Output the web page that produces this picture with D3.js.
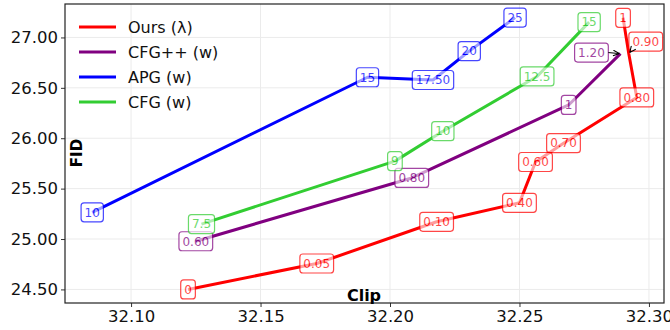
<!DOCTYPE html>
<html><head><meta charset="utf-8">
<script src="https://cdn.jsdelivr.net/npm/d3@7"></script>
<style>body{margin:0;background:#fff} svg{display:block} text{font-family:"DejaVu Sans",sans-serif}</style>
</head><body><svg id="c" width="670" height="330"></svg>
<script>
// ---- data ----
const seriesNames = ["Ours (λ)", "CFG++ (w)", "APG (w)", "CFG (w)"];
const seriesColors = ["#ff0000", "#800080", "#0000ff", "#32cd32"];

const oursClip = [32.122, 32.1717, 32.218, 32.250, 32.2562, 32.267, 32.2953, 32.2922, 32.290];
const oursFid = [24.50, 24.757, 25.171, 25.359, 25.764, 25.951, 26.405, 26.84, 27.195];
const oursLabels = ["0", "0.05", "0.10", "0.40", "0.60", "0.70", "0.80", "0.90", "1"];

const cfgppClip = [32.125, 32.2084, 32.269, 32.289];
const cfgppFid = [24.978, 25.606, 26.33, 26.84];
const cfgppLabels = ["0.60", "0.80", "1", "1.20"];

const apgClip = [32.085, 32.1913, 32.2166, 32.2306, 32.2483];
const apgFid = [25.265, 26.605, 26.578, 26.864, 27.197];
const apgLabels = ["10", "15", "17.50", "20", "25"];

const cfgClip = [32.1272, 32.2019, 32.2204, 32.2568, 32.2769];
const cfgFid = [25.148, 25.773, 26.07, 26.613, 27.152];
const cfgLabels = ["7.5", "9", "10", "12.5", "15"];

const xTicks = [32.10, 32.15, 32.20, 32.25, 32.30];
const yTicks = [24.50, 25.00, 25.50, 26.00, 26.50, 27.00];

// labels drawn offset with an arrow (series index, label, pixel offset)
const offsetLabels = [
  { s: 0, label: "0.90", dx: 17, dy: -12 },
  { s: 1, label: "1.20", dx: -29, dy: -1 }
];

const series = [
  { clip: oursClip, fid: oursFid, labels: oursLabels },
  { clip: cfgppClip, fid: cfgppFid, labels: cfgppLabels },
  { clip: apgClip, fid: apgFid, labels: apgLabels },
  { clip: cfgClip, fid: cfgFid, labels: cfgLabels }
].map((d, i) => ({ ...d, name: seriesNames[i], color: seriesColors[i] }));

// ---- layout ----
const svg = d3.select("#c");
const L = 65, R = 664, T = 4, B = 303;
const allX = series.flatMap(s => s.clip), allY = series.flatMap(s => s.fid);
const [x0, x1] = d3.extent(allX), [y0, y1] = d3.extent(allY);
const mx = (x1 - x0) * 0.05, my = (y1 - y0) * 0.05;
const x = d3.scaleLinear().domain([x0 - mx, x1 + mx]).range([L, R]);
const y = d3.scaleLinear().domain([y0 - my, y1 + my]).range([B, T]);

// grid
const grid = svg.append("g");
grid.selectAll(".gx").data(xTicks).join("line")
  .attr("x1", d => x(d)).attr("x2", d => x(d)).attr("y1", T).attr("y2", B)
  .attr("stroke", "#ebebeb").attr("stroke-width", 1);
grid.selectAll(".gy").data(yTicks).join("line")
  .attr("y1", d => y(d)).attr("y2", d => y(d)).attr("x1", L).attr("x2", R)
  .attr("stroke", "#ebebeb").attr("stroke-width", 1);

// axes
const xAxis = svg.append("g").attr("transform", `translate(0,${B})`)
  .call(d3.axisBottom(x).tickValues(xTicks).tickFormat(d3.format(".2f")).tickSize(4).tickPadding(3));
const yAxis = svg.append("g").attr("transform", `translate(${L},0)`)
  .call(d3.axisLeft(y).tickValues(yTicks).tickFormat(d3.format(".2f")).tickSize(4).tickPadding(3));
[xAxis, yAxis].forEach(a => {
  a.select(".domain").remove();
  a.selectAll("text").attr("font-size", 16.5).attr("fill", "#111").attr("font-family", "DejaVu Sans");
  a.selectAll("line").attr("stroke", "#333");
});
svg.append("rect").attr("x", L).attr("y", T).attr("width", R - L).attr("height", B - T)
  .attr("fill", "none").attr("stroke", "#222").attr("stroke-width", 1.2);

// lines
const line = d3.line().x(d => x(d[0])).y(d => y(d[1]));
series.forEach(s => {
  svg.append("path").datum(d3.zip(s.clip, s.fid)).attr("d", line)
    .attr("fill", "none").attr("stroke", s.color).attr("stroke-width", 3)
    .attr("stroke-linejoin", "round");
});

// labels
svg.append("defs").append("marker").attr("id", "arr").attr("viewBox", "0 0 10 10")
  .attr("refX", 10).attr("refY", 5).attr("markerWidth", 7).attr("markerHeight", 7)
  .attr("orient", "auto-start-reverse")
  .append("path").attr("d", "M1,1 L10,5 L1,9").attr("fill", "none").attr("stroke", "#000").attr("stroke-width", 1.5);

series.forEach((s, si) => {
  s.labels.forEach((lab, i) => {
    const px = x(s.clip[i]), py = y(s.fid[i]);
    const off = offsetLabels.find(o => o.s === si && o.label === lab);
    const cx = off ? px + off.dx : px, cy = off ? py + off.dy : py;
    const g = svg.append("g").attr("opacity", 0.72);
    const t = g.append("text").attr("x", cx).attr("y", cy).attr("dy", "0.36em")
      .attr("text-anchor", "middle").attr("font-size", 12).attr("fill", s.color).text(lab);
    const bb = t.node().getBBox();
    const padX = 3.5, h = 19;
    g.insert("rect", "text").attr("x", bb.x - padX).attr("y", cy - h / 2)
      .attr("width", bb.width + 2 * padX).attr("height", h).attr("rx", 3)
      .attr("fill", "#fff").attr("fill-opacity", 0.85)
      .attr("stroke", s.color).attr("stroke-width", 1.2);
    if (off) {
      // arrow from box edge to point
      const bw = bb.width + 2 * padX;
      let sx, sy;
      if (off.dx < 0) { sx = cx + bw / 2; sy = cy; }
      else { sx = cx - bw / 2 + 2; sy = cy + h / 2; }
      svg.append("line").attr("x1", sx).attr("y1", sy).attr("x2", px + (off.dx < 0 ? -1 : 1)).attr("y2", py - (off.dx < 0 ? 0 : 1))
        .attr("stroke", "#000").attr("stroke-width", 1).attr("marker-end", "url(#arr)");
    }
  });
});

// axis titles
svg.append("text").attr("x", 364).attr("y", 301).attr("text-anchor", "middle")
  .attr("font-size", 16).attr("font-weight", "bold").attr("fill", "#000").text("Clip");
svg.append("text").attr("transform", `translate(82,153) rotate(-90)`).attr("text-anchor", "middle")
  .attr("font-size", 15).attr("font-weight", "bold").attr("fill", "#000").text("FID");

// legend
const leg = svg.append("g");
series.forEach((s, i) => {
  const ly = 27 + i * 25;
  leg.append("line").attr("x1", 79).attr("x2", 116).attr("y1", ly).attr("y2", ly)
    .attr("stroke", s.color).attr("stroke-width", 3);
  leg.append("text").attr("x", 128).attr("y", ly).attr("dy", "0.36em")
    .attr("font-size", 16).attr("fill", "#111").text(s.name);
});
</script></body></html>
